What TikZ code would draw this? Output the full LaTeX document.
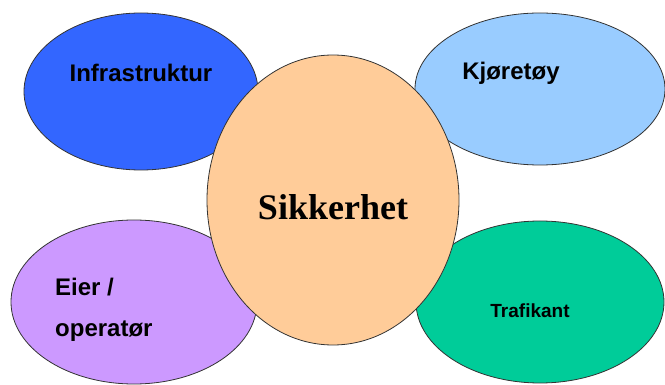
\documentclass[tikz,border=0pt]{standalone}
\usepackage{fontspec}
\setmainfont{Liberation Sans}
\newfontfamily\serifb{Liberation Serif}
\usetikzlibrary{shapes.geometric}
\definecolor{cInfra}{RGB}{51,102,255}
\definecolor{cKjor}{RGB}{153,204,255}
\definecolor{cSik}{RGB}{255,204,153}
\definecolor{cEier}{RGB}{204,153,255}
\definecolor{cTraf}{RGB}{0,204,153}
\tikzset{
  blob/.style={ellipse, draw=black!80, line width=0.8pt, inner sep=0pt},
  lbl/.style={font=\fontsize{24}{24}\selectfont\bfseries, inner sep=0pt, text=black},
}
\begin{document}
\begin{tikzpicture}[x=1pt,y=-1pt]
\useasboundingbox (0,0) rectangle (665,385);
\node[blob, fill=cInfra, minimum width=234pt, minimum height=157pt] (infra) at (141,91.5) {};
\node[blob, fill=cKjor, minimum width=250pt, minimum height=152pt] (kjor) at (540,89) {};
\node[blob, fill=cEier, minimum width=246pt, minimum height=164pt] (eier) at (134,302) {};
\node[blob, fill=cTraf, minimum width=248pt, minimum height=162pt] (traf) at (540,302) {};
\node[blob, fill=cSik, minimum width=252pt, minimum height=290pt] (sik) at (333,200) {};
\node[lbl, anchor=base] (tinfra) at (141,82) {Infrastruktur};
\node[lbl, anchor=base] (tkjor) at (511,80) {Kjøretøy};
\node[lbl, anchor=base west] (teier1) at (55,295) {Eier /};
\node[lbl, anchor=base west] (teier2) at (55,337) {operatør};
\node[lbl, anchor=base, font=\fontsize{19}{19}\selectfont\bfseries] (ttraf) at (530,318) {Trafikant};
\node[anchor=base, inner sep=0pt, font=\serifb\fontsize{36}{36}\selectfont\bfseries] (tsik) at (333,220) {Sikkerhet};
\end{tikzpicture}
\end{document}
